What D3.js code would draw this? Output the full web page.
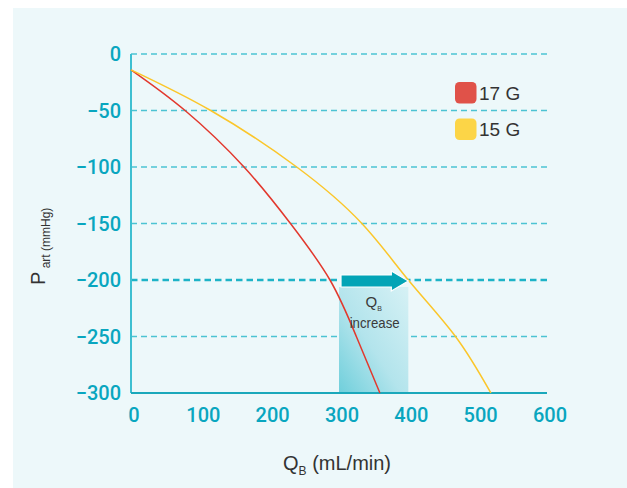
<!DOCTYPE html>
<html>
<head>
<meta charset="utf-8">
<script src="https://cdn.jsdelivr.net/npm/d3@7"></script>
<style>
  html, body { margin: 0; padding: 0; background: #ffffff; }
  svg { display: block; }
</style>
</head>
<body>
<svg id="chart" width="627" height="488"></svg>
<script>
// Axis ticks
const xTicks = [0, 100, 200, 300, 400, 500, 600];
const yTicks = [0, -50, -100, -150, -200, -250, -300];

// Pressure–flow curves for two needle gauges (QB in mL/min, Part in mmHg)
const q17G = [0, 78, 163, 230, 287, 325, 359];
const p17G = [-14, -50, -100, -150, -200, -250, -300];
const q15G = [0, 115, 239, 333, 400, 468, 519];
const p15G = [-14, -50, -100, -150, -200, -250, -300];

const seriesNames = ["17 G", "15 G"];
const seriesColors = ["#e2382d", "#fbc62a"];
const legendColors = ["#e05249", "#fcd547"];

// Flow increase annotation at a fixed arterial pressure
const increaseFrom = 300;
const increaseTo = 400;
const increasePressure = -200;

const series = [
  { name: seriesNames[0], color: seriesColors[0], pts: q17G.map((q, i) => [q, p17G[i]]) },
  { name: seriesNames[1], color: seriesColors[1], pts: q15G.map((q, i) => [q, p15G[i]]) }
];

const svg = d3.select("#chart");
const teal = "#09a6bf";
const gridColor = "#4cc3d3";

// panel background
svg.append("rect").attr("x", 13).attr("y", 8).attr("width", 614).attr("height", 480)
  .attr("fill", "#edf8fa");

const x = d3.scaleLinear().domain([0, 600]).range([131, 547]);
const y = d3.scaleLinear().domain([0, -300]).range([54, 393]);

// gradient for the annotation box
const defs = svg.append("defs");
const grad = defs.append("linearGradient").attr("id", "boxGrad")
  .attr("x1", "0%").attr("y1", "100%").attr("x2", "100%").attr("y2", "0%");
grad.append("stop").attr("offset", "0%").attr("stop-color", "#6fcfdb");
grad.append("stop").attr("offset", "45%").attr("stop-color", "#b3e4ec");
grad.append("stop").attr("offset", "100%").attr("stop-color", "#d6f1f5");

// horizontal dashed grid
svg.append("g").selectAll("line").data(yTicks.filter(d => d !== -300)).join("line")
  .attr("x1", x(0)).attr("x2", x(600))
  .attr("y1", d => y(d)).attr("y2", d => y(d))
  .attr("stroke", d => d === increasePressure ? "#1db3c7" : gridColor)
  .attr("stroke-width", d => d === increasePressure ? 2.6 : 1.4)
  .attr("stroke-dasharray", d => d === increasePressure ? "6.5,4" : "6,4");

// annotation box
const boxTop = y(increasePressure) + 7;
svg.append("rect")
  .attr("x", x(increaseFrom)).attr("width", x(increaseTo) - x(increaseFrom))
  .attr("y", boxTop).attr("height", y(-300) - boxTop)
  .attr("fill", "url(#boxGrad)");

// axes lines
svg.append("line").attr("x1", x(0)).attr("x2", x(0)).attr("y1", y(0)).attr("y2", y(-300))
  .attr("stroke", "#3ebfd1").attr("stroke-width", 2);
svg.append("line").attr("x1", x(0)).attr("x2", x(600)).attr("y1", y(-300)).attr("y2", y(-300))
  .attr("stroke", "#1ba8bb").attr("stroke-width", 2);

// curves
const line = d3.line().x(d => x(d[0])).y(d => y(d[1])).curve(d3.curveNatural);
svg.append("g").selectAll("path").data(series).join("path")
  .attr("d", d => line(d.pts))
  .attr("fill", "none")
  .attr("stroke", d => d.color)
  .attr("stroke-width", 1.5);

// arrow showing the flow increase
const ay = y(increasePressure) + 1;
const ax0 = x(increaseFrom) + 2;
const ax1 = x(increaseTo);
const headLen = 17;
const arrowPts = [
  [ax0, ay - 6], [ax1 - headLen, ay - 6], [ax1 - headLen, ay - 10],
  [ax1, ay], [ax1 - headLen, ay + 10], [ax1 - headLen, ay + 6], [ax0, ay + 6]
];
svg.append("path")
  .attr("d", "M" + arrowPts.map(p => p.join(",")).join("L") + "Z")
  .attr("fill", "#03a4b6").attr("stroke", "#ffffff").attr("stroke-width", 1.2)
  .attr("stroke-linejoin", "miter");

// annotation label
const midX = (x(increaseFrom) + x(increaseTo)) / 2;
const qLab = svg.append("text").attr("x", midX).attr("y", 307)
  .attr("text-anchor", "middle").attr("fill", "#3a3a3a")
  .attr("font-family", "Liberation Sans, Arial, sans-serif").attr("font-size", 15);
qLab.append("tspan").text("Q");
qLab.append("tspan").attr("font-size", 7).attr("dy", 4).text("B");
svg.append("text").attr("x", midX + 1).attr("y", 328)
  .attr("text-anchor", "middle").attr("fill", "#3a3a3a")
  .attr("font-family", "Liberation Sans, Arial, sans-serif").attr("font-size", 15)
  .attr("textLength", 50).attr("lengthAdjust", "spacingAndGlyphs")
  .text("increase");

// tick labels
svg.append("g").selectAll("text").data(yTicks).join("text")
  .attr("x", 121).attr("y", d => y(d) + 7)
  .attr("text-anchor", "end").attr("fill", teal)
  .attr("font-family", "Roboto, sans-serif").attr("font-weight", 500).attr("font-size", 20)
  .text(d => d === 0 ? "0" : "\u2212" + Math.abs(d));
svg.append("g").selectAll("text").data(xTicks).join("text")
  .attr("x", d => x(d) + 3).attr("y", 422)
  .attr("text-anchor", "middle").attr("fill", teal)
  .attr("font-family", "Roboto, sans-serif").attr("font-weight", 500).attr("font-size", 20)
  .text(d => d);

// axis titles
const xt = svg.append("text").attr("x", 283).attr("y", 470).attr("fill", "#333")
  .attr("font-family", "Liberation Sans, Arial, sans-serif").attr("font-size", 20);
xt.append("tspan").text("Q");
xt.append("tspan").attr("font-size", 12).attr("dy", 5).text("B");
xt.append("tspan").attr("dy", -5).text(" (mL/min)");

const yt = svg.append("text").attr("transform", "translate(45,285) rotate(-90)").attr("fill", "#333")
  .attr("font-family", "Liberation Sans, Arial, sans-serif").attr("font-size", 20);
yt.append("tspan").text("P");
yt.append("tspan").attr("font-size", 12).attr("dy", 5).text(" art (mmHg)");

// legend
const leg = svg.append("g").selectAll("g").data(series).join("g")
  .attr("transform", (d, i) => `translate(455,${82 + i * 36.5})`);
leg.append("rect").attr("width", 21.5).attr("height", 21.5).attr("rx", 4.5)
  .attr("fill", (d, i) => legendColors[i]);
leg.append("text").attr("x", 24).attr("y", 17.5).attr("fill", "#333")
  .attr("font-family", "Liberation Sans, Arial, sans-serif").attr("font-size", 19)
  .text(d => d.name);
</script>
</body>
</html>
